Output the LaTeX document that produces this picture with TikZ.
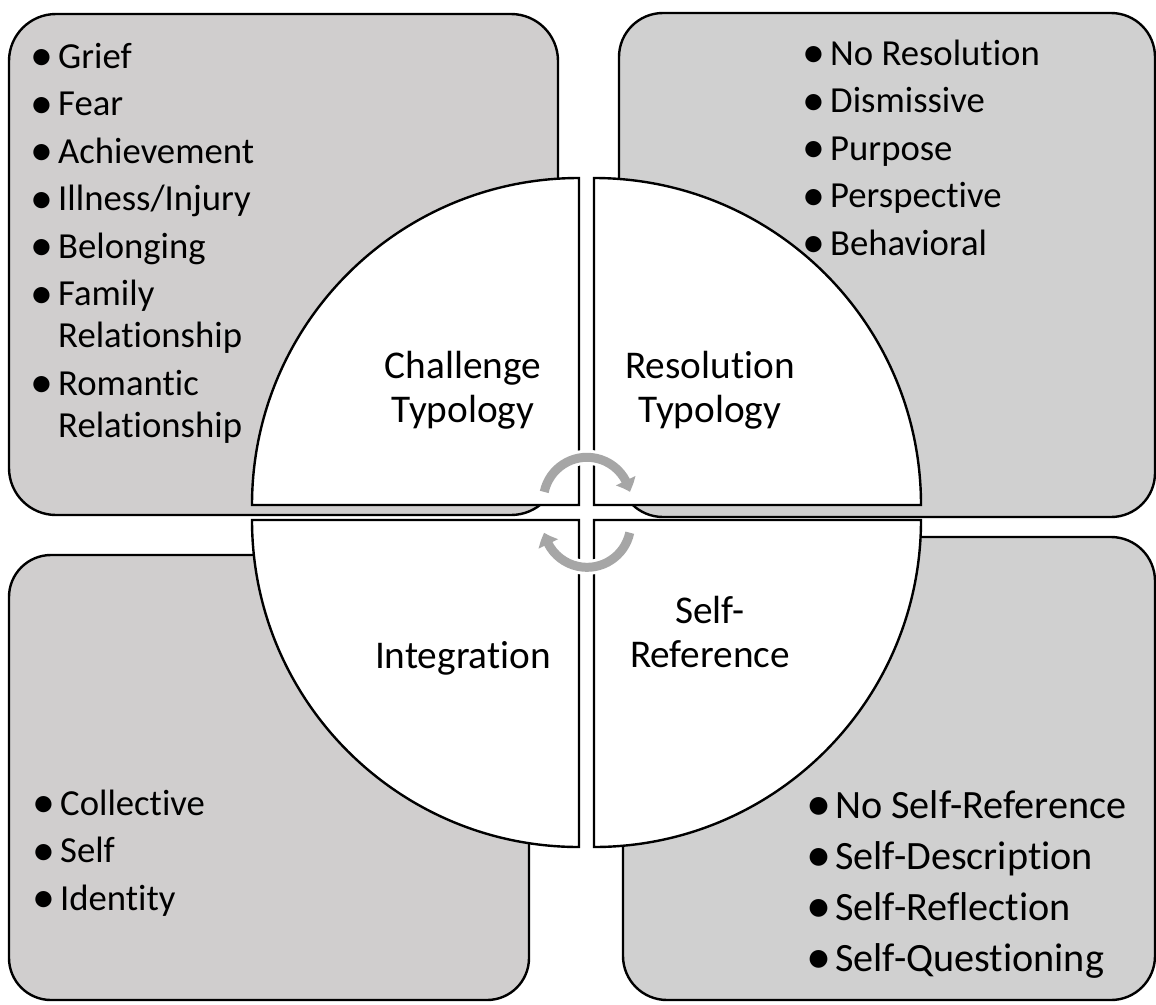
\documentclass[tikz,border=0pt]{standalone}
\usepackage{graphicx}
\usepackage{fontspec}
\setmainfont{Carlito}[Ligatures=NoCommon]
\usetikzlibrary{arrows.meta,bending}

\definecolor{panelL}{HTML}{D0CECE}
\definecolor{panelR}{HTML}{D0D0D0}
\definecolor{cycgray}{HTML}{A6A6A6}

% bullet centred on the left edge of a fixed-width slot
\newcommand{\bul}{\makebox[16pt][l]{\makebox[0pt][c]{\raisebox{-2.6pt}{\scalebox{1.25}{\textbullet}}}}}

\begin{document}
\begin{tikzpicture}[x=1pt,y=-1pt,
  panel/.style={draw=black, line width=2.4pt},
  quarter/.style={draw=black, fill=white, line width=2.4pt},
  listtext/.style={inner sep=0pt, anchor=base west,
    font=\fontsize{36.7pt}{42pt}\selectfont},
  biglist/.style={listtext, font=\fontsize{40.2pt}{46pt}\selectfont},
  hub/.style={inner sep=0pt, anchor=base,
    font=\fontsize{39.3pt}{44pt}\selectfont},
  cycback/.style={draw=white, line width=15pt},
  cycarrow/.style={draw=cycgray, line width=9pt,
    -{Triangle[width=21pt,length=12pt,bend]}},
]
\useasboundingbox (0,0) rectangle (1156,1004);

% corner panels
\path[panel, fill=panelL, rounded corners=47pt] (9,14) rectangle (558,515);
\path[panel, fill=panelR, rounded corners=44pt] (619,13) rectangle (1155,517);
\path[panel, fill=panelL, rounded corners=42pt] (9,555) rectangle (529,1000);
\path[panel, fill=panelR, rounded corners=44pt] (623,537) rectangle (1155,1000);

% four quarter discs
\draw[quarter] (579,505) -- (252,505) arc[start angle=180, end angle=90, radius=327pt] -- cycle;
\draw[quarter] (594,505) -- (594,178) arc[start angle=90, end angle=0, radius=327pt] -- cycle;
\draw[quarter] (579,520) -- (579,847) arc[start angle=270, end angle=180, radius=327pt] -- cycle;
\draw[quarter] (594,520) -- (921,520) arc[start angle=0, end angle=-90, radius=327pt] -- cycle;

% cycle arrows in the hub
\coordinate (upS) at (544.25,491.9);
\coordinate (loS) at (629.75,532.7);
\draw[cycback] (upS) arc[start angle=168, end angle=24, radius=43.7pt];
\draw[cycback] (loS) arc[start angle=-12, end angle=-156, radius=43.7pt];
\draw[cycarrow] (upS) arc[start angle=168, end angle=12, radius=43.7pt];
\draw[cycarrow] (loS) arc[start angle=-12, end angle=-168, radius=43.7pt];

% hub labels
\node[hub] (challenge) at (463,378) {\begin{tabular}[t]{@{}c@{}}Challenge\\Typology\end{tabular}};
\node[hub] (resolution) at (710,378) {\begin{tabular}[t]{@{}c@{}}Resolution\\Typology\end{tabular}};
\node[hub] (integration) at (463,668) {Integration};
\node[hub] (selfref) at (710,623) {\begin{tabular}[t]{@{}c@{}}Self-\\Reference\end{tabular}};

% panel lists
\node[listtext] (challengelist) at (42,68) {\begin{tabular}[t]{@{}l@{}l@{}}
\bul & Grief\\[5.5pt]
\bul & Fear\\[5.5pt]
\bul & Achievement\\[5.5pt]
\bul & Illness/Injury\\[5.5pt]
\bul & Belonging\\[5.5pt]
\bul & Family\\
     & Relationship\\[5.5pt]
\bul & Romantic\\
     & Relationship
\end{tabular}};

\node[listtext] (resolutionlist) at (814,65) {\begin{tabular}[t]{@{}l@{}l@{}}
\bul & No Resolution\\[5.5pt]
\bul & Dismissive\\[5.5pt]
\bul & Purpose\\[5.5pt]
\bul & Perspective\\[5.5pt]
\bul & Behavioral
\end{tabular}};

\node[listtext] (integrationlist) at (44,815) {\begin{tabular}[t]{@{}l@{}l@{}}
\bul & Collective\\[5.5pt]
\bul & Self\\[5.5pt]
\bul & Identity
\end{tabular}};

\node[biglist] (selfreflist) at (819,818) {\begin{tabular}[t]{@{}l@{}l@{}}
\bul & No Self-Reference\\[5pt]
\bul & Self-Description\\[5pt]
\bul & Self-Reflection\\[5pt]
\bul & Self-Questioning
\end{tabular}};
\end{tikzpicture}
\end{document}
